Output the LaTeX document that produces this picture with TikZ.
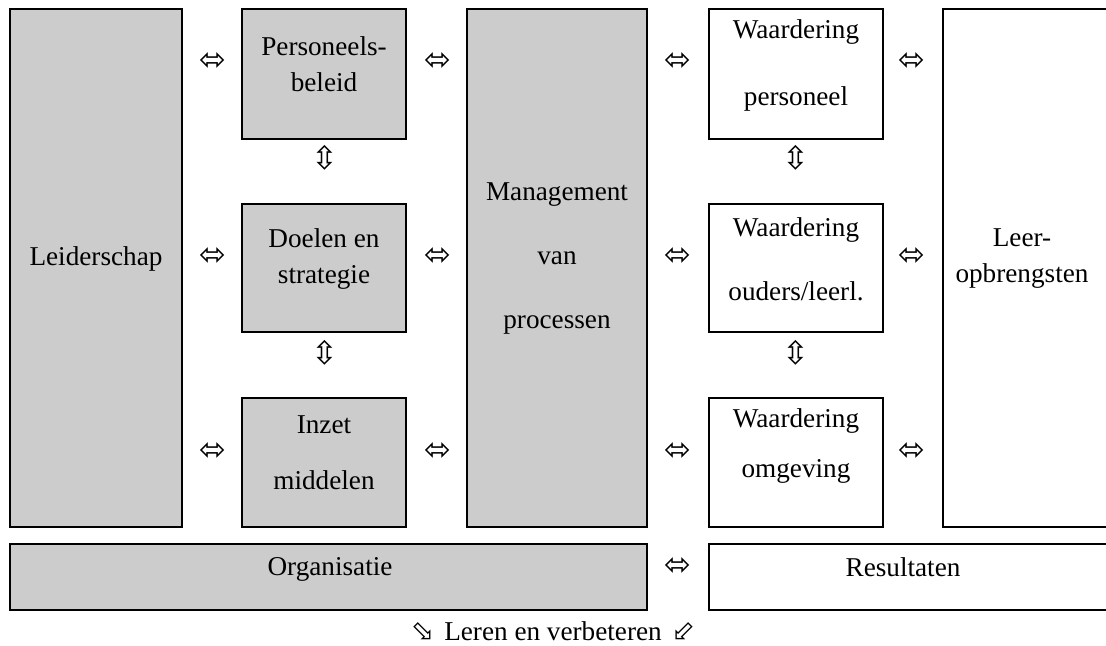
\documentclass[tikz,border=0pt]{standalone}
\usepackage{fontspec}
\setmainfont{Liberation Serif}
\newfontfamily\arrowfont{DejaVu Sans}
\usetikzlibrary{fit,positioning}

\begin{document}
\begin{tikzpicture}[x=0.5pt,y=-0.5pt,
		font=\fontsize{13.6}{18}\selectfont]
		\useasboundingbox (0,0) rectangle (1106,646);
		\clip (0,0) rectangle (1106,646);

		% grey blocks (organisatie)
		\begin{scope}[every node/.style={draw,line width=1.4pt,fill=black!20,inner sep=0pt}]
			\node[fit={(10,9) (182,527)}] (lead) {};
			\node[fit={(242,9) (406,139)}] (pers) {};
			\node[fit={(242,204) (406,332)}] (doel) {};
			\node[fit={(242,398) (406,527)}] (inzet) {};
			\node[fit={(467,9) (647,527)}] (mgmt) {};
			\node[fit={(10,544) (647,610)}] (org) {};
		\end{scope}

		% white blocks (resultaten)
		\begin{scope}[every node/.style={draw,line width=1.4pt,fill=white,inner sep=0pt}]
			\node[fit={(709,9) (883,139)}] (wpers) {};
			\node[fit={(709,204) (883,332)}] (wouder) {};
			\node[fit={(709,398) (883,527)}] (womg) {};
			\node[fit={(943,9) (1116,527)}] (leer) {};
			\node[fit={(709,544) (1116,610)}] (res) {};
		\end{scope}

		% labels
		\begin{scope}[every node/.style={align=center,inner sep=0pt}]
			\node (leadtext) at (96,259) {Leiderschap};
			\node (perstext) at (324,64) {Personeels-\\beleid};
			\node (doeltext) at (324,259) {Doelen en\\strategie};
			\node (inzettext) at (324,453) {Inzet\\[10pt]middelen};
			\node (mgmttext) at (557,258) {Management\\[14pt]van\\[14pt]processen};
			\node (wperstext) at (796,65) {Waardering\\[15.5pt]personeel};
			\node (woudertext) at (796,259) {Waardering\\[14pt]ouders/leerl.};
			\node (womgtext) at (796,446) {Waardering\\[7pt]omgeving};
			\node (leertext) at (1022,259) {Leer-\\opbrengsten};
			\node (orgtext) at (330,569) {Organisatie};
			\node (restext) at (903,567) {Resultaten};
			\node (leren) at (553,631) {{\arrowfont\fontsize{14}{14}\selectfont ⬂}\hspace{5pt}Leren en verbeteren\hspace{5pt}{\arrowfont\fontsize{14}{14}\selectfont ⬃}};
		\end{scope}

		% arrows between the blocks
		\begin{scope}[every node/.style={font=\arrowfont\fontsize{16}{16}\selectfont,inner sep=0pt}]
			\node (lp) at (213,62) {⬄};
			\node (ld) at (213,257) {⬄};
			\node (li) at (213,452) {⬄};
			\node (pm) at (438,62) {⬄};
			\node (dm) at (438,257) {⬄};
			\node (im) at (438,452) {⬄};
			\node (mw1) at (678,62) {⬄};
			\node (mw2) at (678,257) {⬄};
			\node (mw3) at (678,452) {⬄};
			\node (wl1) at (912,62) {⬄};
			\node (wl2) at (912,257) {⬄};
			\node (wl3) at (912,452) {⬄};
			\node (orgres) at (678,567) {⬄};
			\node (pd) at (325,158) {⇳};
			\node (di) at (325,353) {⇳};
			\node (wpo) at (796,158) {⇳};
			\node (wom) at (796,353) {⇳};
		\end{scope}
	\end{tikzpicture}
\end{document}
